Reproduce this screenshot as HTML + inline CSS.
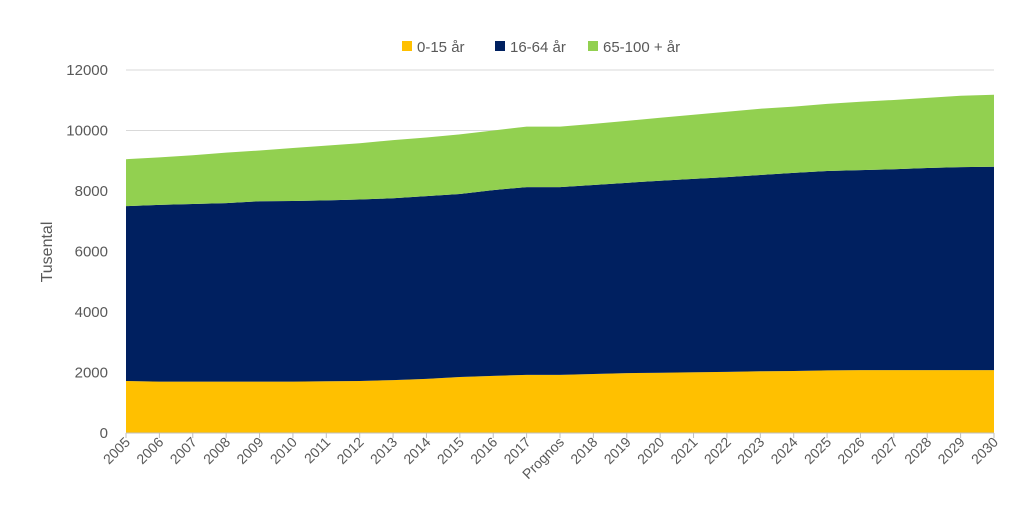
<!DOCTYPE html>
<html><head><meta charset="utf-8"><style>
body{margin:0;background:#fff;font-family:"Liberation Sans",sans-serif;}
svg text{font-family:"Liberation Sans",sans-serif;fill:#595959;}
</style></head><body>
<svg id="chart" width="1023" height="525" xmlns="http://www.w3.org/2000/svg">
<g id="grid"></g><g id="areas"></g><g id="axes"></g>
<g>
<rect x="402" y="41" width="10" height="10" fill="#FFC000"/>
<text x="417" y="52" font-size="15">0-15 år</text>
<rect x="495" y="41" width="10" height="10" fill="#002060"/>
<text x="510" y="52" font-size="15">16-64 år</text>
<rect x="588" y="41" width="10" height="10" fill="#92D050"/>
<text x="603" y="52" font-size="15">65-100 + år</text>
</g>
<text transform="translate(52,252) rotate(-90)" text-anchor="middle" font-size="16">Tusental</text>
</svg>
<script>
const categories=["2005","2006","2007","2008","2009","2010","2011","2012","2013","2014","2015","2016","2017","Prognos","2018","2019","2020","2021","2022","2023","2024","2025","2026","2027","2028","2029","2030"];
const young=[1720,1700,1700,1700,1700,1700,1710,1720,1750,1790,1850,1890,1920,1920,1950,1980,1990,2010,2020,2040,2050,2070,2080,2080,2080,2080,2080];
const working=[5780,5840,5870,5900,5960,5970,5980,6000,6010,6040,6050,6140,6210,6210,6250,6290,6350,6390,6440,6490,6550,6590,6610,6640,6680,6710,6720];
const elderly=[1550,1570,1610,1670,1680,1750,1810,1860,1920,1940,1970,1970,2000,2000,2020,2050,2080,2120,2160,2190,2190,2220,2260,2290,2320,2360,2380];
const yTicks=[0,2000,4000,6000,8000,10000,12000];
const X0=126,X1=994,Y0=433,Y1=70,YMAX=12000;
const xs=i=>X0+(X1-X0)*i/(categories.length-1);
const ys=v=>Y0-(Y0-Y1)*v/YMAX;
const NS="http://www.w3.org/2000/svg";
function mk(t,a,p){const e=document.createElementNS(NS,t);for(const k in a)e.setAttribute(k,a[k]);p.appendChild(e);return e;}
const grid=document.getElementById('grid'),areas=document.getElementById('areas'),axes=document.getElementById('axes');
yTicks.forEach(v=>{
 if(v>0){const l=mk('line',{x1:X0,x2:X1,y1:ys(v),y2:ys(v),stroke:'#d9d9d9','stroke-width':1},grid);
 
 }
 const t=mk('text',{x:X0-18,y:ys(v)+5,'text-anchor':'end','font-size':15},axes);t.textContent=v;
 
 
});
const series=[young,working,elderly],colors=["#FFC000","#002060","#92D050"],names=["area-0-15","area-16-64","area-65-100"];
let base=categories.map(()=>0);
series.forEach((s,k)=>{
 const top=base.map((b,i)=>b+s[i]);
 let d='M'+categories.map((c,i)=>xs(i)+','+ys(top[i])).join('L');
 for(let i=categories.length-1;i>=0;i--)d+='L'+xs(i)+','+ys(base[i]);
 const p=mk('path',{d:d+'Z',fill:colors[k]},areas);
 
 
 base=top;
});
const ax=mk('line',{x1:X0,x2:X1,y1:Y0,y2:Y0,stroke:'#bfbfbf'},axes);


categories.forEach((c,i)=>{
 mk('line',{x1:xs(i),x2:xs(i),y1:Y0,y2:Y0+5,stroke:'#bfbfbf'},axes);
 const t=mk('text',{x:0,y:0,'text-anchor':'end','font-size':14,transform:`translate(${xs(i)+5},${Y0+10}) rotate(-45)`},axes);
 t.textContent=c;
 
 
});
</script>
</body></html>
